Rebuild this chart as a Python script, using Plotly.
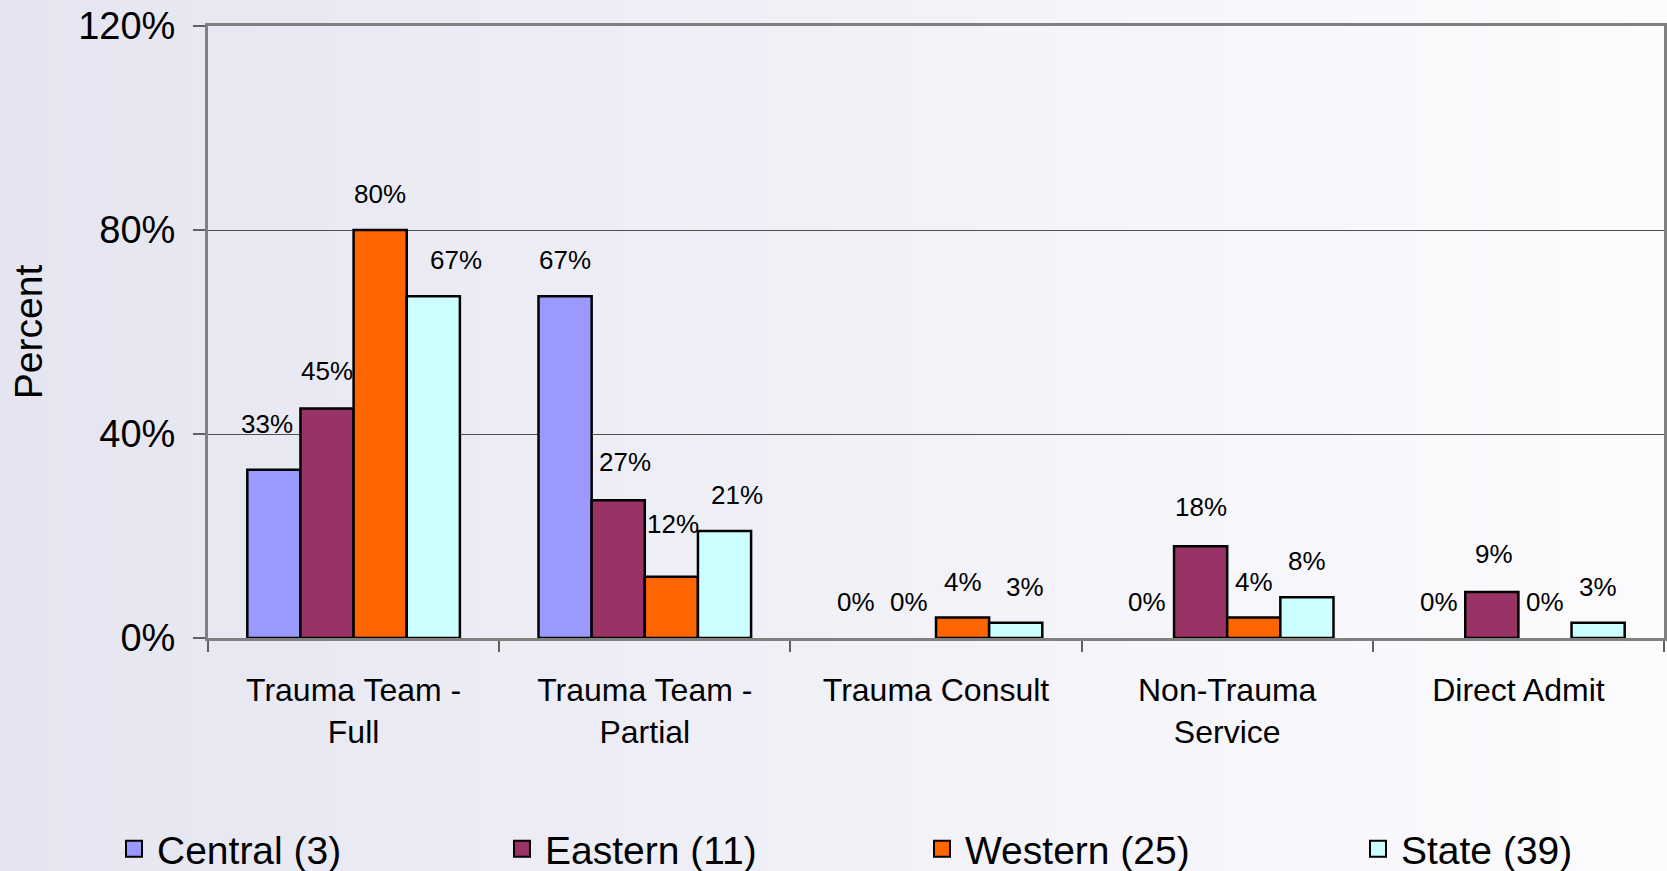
import base64
import struct
import zlib

import plotly.graph_objects as go

# ---------------- data ----------------
categories = ["Trauma Team -<br>Full", "Trauma Team -<br>Partial", "Trauma Consult",
              "Non-Trauma<br>Service", "Direct Admit"]
series_names = ["Central (3)", "Eastern (11)", "Western (25)", "State (39)"]
central = [33, 67, 0, 0, 0]
eastern = [45, 27, 0, 18, 9]
western = [80, 12, 4, 4, 0]
state = [67, 21, 3, 8, 3]
y_tick_values = [0, 40, 80, 120]
y_tick_labels = ["0%", "40%", "80%", "120%"]

# ---------------- style ----------------
colors = ["#9999FF", "#993366", "#FF6600", "#CCFFFF"]
FONT = "Liberation Sans, Arial, sans-serif"
W, H = 1667, 871
ML, MR, MT, MB = 208, 3, 26, 233
PW, PH = W - ML - MR, H - MT - MB
BARGAP = 0.27
LABEL_LIFT = 36  # px from bar top to label centre
# manual label nudges (dx, dy in px), keyed by (category index, series index)
label_nudge = {(0, 0): (-7, 10), (0, 1): (0, 2), (0, 3): (23, 0), (1, 1): (7, 2),
               (1, 2): (2, 17), (1, 3): (12, 0), (2, 3): (9, 0), (3, 1): (0, 3),
               (4, 1): (2, 2)}
legend_marker_px = [131, 519, 939, 1375]


def gradient_png(width, left, right):
    row = bytearray([0])
    for i in range(width):
        t = i / (width - 1)
        row += bytes(int(round(left[c] + (right[c] - left[c]) * t)) for c in range(3))
    def chunk(tag, data):
        c = struct.pack(">I", len(data)) + tag + data
        return c + struct.pack(">I", zlib.crc32(tag + data) & 0xFFFFFFFF)
    png = b"\x89PNG\r\n\x1a\n"
    png += chunk(b"IHDR", struct.pack(">IIBBBBB", width, 1, 8, 2, 0, 0, 0))
    png += chunk(b"IDAT", zlib.compress(bytes(row)))
    png += chunk(b"IEND", b"")
    return "data:image/png;base64," + base64.b64encode(png).decode()


series_values = [central, eastern, western, state]
legend_ids = ["legend", "legend2", "legend3", "legend4"]

fig = go.Figure()
for k, (name, vals, col) in enumerate(zip(series_names, series_values, colors)):
    fig.add_trace(go.Bar(
        x=categories, y=vals, name=name, showlegend=False,
        marker=dict(color=col, line=dict(color="black",
                                         width=[0 if v == 0 else 2.5 for v in vals])),
        hoverinfo="y+name",
    ))
    # legend entry
    fig.add_trace(go.Scatter(
        x=[None], y=[None], mode="markers", name=name, legend=legend_ids[k],
        marker=dict(symbol="square", size=16, color=col, line=dict(color="black", width=2)),
    ))

# data labels
n = len(series_values)
slot = (1 - BARGAP) / n
annotations = []
for k, vals in enumerate(series_values):
    for i, v in enumerate(vals):
        dx, dy = label_nudge.get((i, k), (0, 0))
        annotations.append(dict(
            x=i + (k - (n - 1) / 2) * slot, y=v, xref="x", yref="y",
            text=f"{v}%", showarrow=False, xanchor="center", yanchor="middle",
            xshift=dx, yshift=LABEL_LIFT + dy,
            font=dict(family=FONT, size=26, color="black"),
        ))

legends = {}
for k, px in enumerate(legend_marker_px):
    key = "legend" if k == 0 else f"legend{k + 1}"
    legends[key] = dict(
        x=(px - 20 - ML) / PW, y=(MT + PH - 849) / PH, xanchor="left", yanchor="middle",
        orientation="h", bgcolor="rgba(0,0,0,0)", borderwidth=0, itemwidth=36,
        font=dict(family=FONT, size=39, color="black"), itemsizing="trace",
    )

fig.update_layout(
    width=W, height=H,
    margin=dict(l=ML, r=MR, t=MT, b=MB, autoexpand=False),
    paper_bgcolor="#eeeef6", plot_bgcolor="rgba(0,0,0,0)",
    barmode="group", bargap=BARGAP, bargroupgap=0,
    font=dict(family=FONT, color="black"),
    annotations=annotations,
    images=[dict(
        source=gradient_png(256, (229, 229, 241), (252, 252, 254)),
        xref="paper", yref="paper", x=-ML / PW, y=1 + MT / PH,
        sizex=W / PW, sizey=H / PH, xanchor="left", yanchor="top",
        sizing="stretch", layer="below",
    )],
    xaxis=dict(
        type="category", showgrid=False, showline=True, mirror=True,
        linecolor="#808080", linewidth=3, ticks="outside", tickson="boundaries",
        ticklen=11, tickwidth=1.5, tickcolor="#606060",
        tickfont=dict(family=FONT, size=32, color="black"), ticklabelstandoff=22,
    ),
    yaxis=dict(
        range=[0, 120], tickvals=y_tick_values, ticktext=y_tick_labels,
        showgrid=True, gridcolor="#505050", gridwidth=1, zeroline=False,
        showline=True, mirror=True, linecolor="#808080", linewidth=3,
        ticks="outside", ticklen=12, tickwidth=1.5, tickcolor="#606060",
        tickfont=dict(family=FONT, size=38, color="black"), ticklabelstandoff=10,
        title=dict(text="Percent", font=dict(family=FONT, size=39, color="black"), standoff=24),
    ),
    **legends,
)

fig.write_html("out.html", config={"displayModeBar": False},
               post_script="document.body.style.margin='0px';"
                           "document.body.style.overflow='hidden';")
